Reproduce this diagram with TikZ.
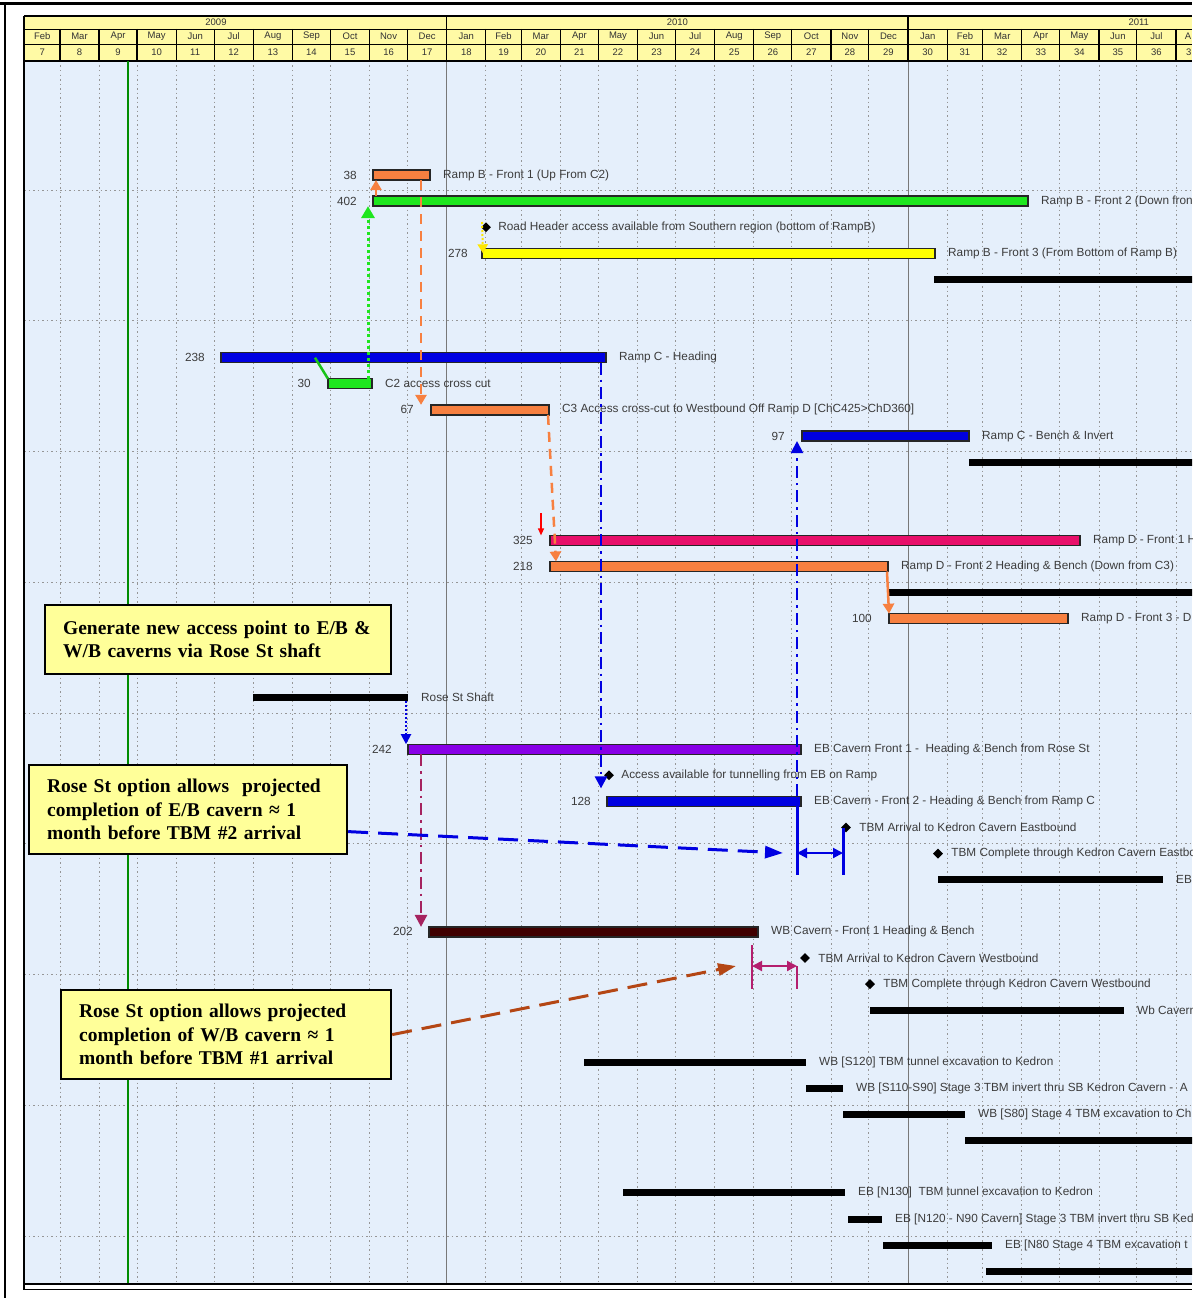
\documentclass[tikz,border=0pt]{standalone}
\usepackage{fontspec}
\setmainfont{Liberation Serif}
\setsansfont{Liberation Sans}
\usetikzlibrary{positioning,shapes.geometric,arrows.meta}
\definecolor{bodyblue}{RGB}{229,239,251}
\definecolor{hdryellow}{RGB}{255,250,165}
\definecolor{noteyellow}{RGB}{255,255,153}
\definecolor{barorange}{RGB}{247,128,64}
\definecolor{bargreen}{RGB}{30,230,30}
\definecolor{baryellow}{RGB}{255,255,0}
\definecolor{barblue}{RGB}{0,0,225}
\definecolor{barpink}{RGB}{232,16,106}
\definecolor{barpurple}{RGB}{136,0,230}
\definecolor{barmaroon}{RGB}{64,0,0}
\definecolor{gridgray}{RGB}{150,150,150}
\definecolor{todaygreen}{RGB}{0,140,0}
\definecolor{linkmaroon}{RGB}{165,35,95}
\definecolor{linkpink}{RGB}{180,30,110}
\definecolor{linkbrown}{RGB}{180,70,20}
\definecolor{txtgray}{RGB}{60,60,60}

\begin{document}
\begin{tikzpicture}[x=1pt, y=-1pt, node distance=13pt,
  bar/.style={draw=black!85, line width=1.3pt, minimum height=10pt, inner sep=0pt, outer sep=0pt, anchor=west},
  sum/.style={fill=black, minimum height=7pt, inner sep=0pt, outer sep=0pt, anchor=west},
  lbl/.style={font=\sffamily\fontsize{11.8}{13}\selectfont, text=txtgray, inner sep=0pt},
  hdr/.style={font=\sffamily\fontsize{9.5}{10}\selectfont, text=black!80, inner sep=0pt},
  mile/.style={diamond, fill=black, inner sep=0pt, minimum size=10pt},
  note/.style={draw=black, line width=2.2pt, fill=noteyellow, font=\bfseries\fontsize{19.5}{23.5}\selectfont, align=left, inner xsep=18pt, anchor=north west},
  griddot/.style={draw=gridgray, line width=0.8pt, dash pattern=on 1.5pt off 3pt},
  gdot/.style={draw=bargreen, line width=3pt, dash pattern=on 3pt off 3pt, -{Triangle[width=13pt,length=12pt]}},
  gline/.style={draw=bargreen!85!black, line width=2.5pt},
  oarr/.style={draw=barorange, line width=2.5pt, -{Triangle[width=11pt,length=10pt]}},
  odash/.style={oarr, dash pattern=on 10pt off 7pt},
  ydot/.style={draw=yellow!90!orange, line width=2pt, dash pattern=on 2pt off 2pt, -{Triangle[width=10pt,length=9pt]}},
  redarr/.style={draw=red, line width=1.2pt, -{Triangle[width=6pt,length=7pt]}},
  bdd/.style={draw=barblue, line width=2.5pt, dash pattern=on 12pt off 5pt on 2.5pt off 5pt, -{Triangle[width=12pt,length=12pt]}},
  mdd/.style={bdd, draw=linkmaroon},
  bdot/.style={draw=barblue, line width=2pt, dash pattern=on 2pt off 2pt, -{Triangle[width=10pt,length=10pt]}},
  bdash/.style={draw=barblue, line width=3pt, dash pattern=on 20pt off 10pt, -{Triangle[width=12pt,length=18pt]}},
  brdash/.style={bdash, draw=linkbrown},
  bline/.style={draw=barblue, line width=3pt},
  pline/.style={draw=linkpink, line width=2.5pt},
  bdbl/.style={draw=barblue, line width=2pt, {Triangle[width=10pt,length=10pt]}-{Triangle[width=10pt,length=10pt]}},
  pdbl/.style={bdbl, draw=linkpink}]

  \useasboundingbox (0,0) rectangle (1192,1298);
  \clip (0,0) rectangle (1192,1298);
  \fill[white] (0,0) rectangle (1192,1298);

  % chart area and header
  \fill[bodyblue] (24,61) rectangle (1192,1285);
  \fill[hdryellow] (24,16) rectangle (1192,61);
  \draw[line width=0.8pt] (24,29) -- (1192,29) (24,44) -- (1192,44);
  \foreach \ms/\me/\mn/\wk in {-334/-306/Feb/7, -306/-275/Mar/8, -275/-245/Apr/9, -245/-214/May/10,
      -214/-184/Jun/11, -184/-153/Jul/12, -153/-122/Aug/13, -122/-92/Sep/14, -92/-61/Oct/15,
      -61/-31/Nov/16, -31/0/Dec/17, 0/31/Jan/18, 31/59/Feb/19, 59/90/Mar/20, 90/120/Apr/21,
      120/151/May/22, 151/181/Jun/23, 181/212/Jul/24, 212/243/Aug/25, 243/273/Sep/26,
      273/304/Oct/27, 304/334/Nov/28, 334/365/Dec/29, 365/396/Jan/30, 396/424/Feb/31,
      424/455/Mar/32, 455/485/Apr/33, 485/516/May/34, 516/546/Jun/35, 546/577/Jul/36}{
    \draw[griddot] ({446.7+1.264*\me},61) -- ({446.7+1.264*\me},1285);
    \draw[line width=1.2pt] ({446.7+1.264*\me},29) -- ({446.7+1.264*\me},61);
    \node[hdr] (mn\wk) at ({446.7+0.632*(\ms+\me)},36.5) {\mn};
    \node[hdr] (wk\wk) at ({446.7+0.632*(\ms+\me)},52.5) {\wk};
  }
  \node[hdr, anchor=east] (mn37) at (1191.5,36.5) {A};
  \node[hdr, anchor=east] (wk37) at (1191.5,52.5) {3};
  \foreach \k in {0,...,8}
    \draw[griddot] (24,{190+130.75*\k}) -- (1192,{190+130.75*\k});
  \draw[gridgray!80!black, line width=0.8pt] (446.7,61) -- (446.7,1285) (908.1,61) -- (908.1,1285);
  \draw[line width=1.5pt] (446.7,16) -- (446.7,61) (908.1,16) -- (908.1,61);
  \draw[line width=1.5pt] (24,16) -- (1192,16) (24,61) -- (1192,61);
  \node[hdr] (y2009) at (216,22.5) {2009};
  \node[hdr] (y2010) at (677.4,22.5) {2010};
  \node[hdr] (y2011) at (1138.8,22.5) {2011};
  \draw[todaygreen, line width=2.5pt] (128,61) -- (128,1284);
  \draw[line width=2.5pt] (24,1284) -- (1192,1284);
  \draw[line width=1pt] (24,1289) -- (1192,1289);
  \draw[line width=2.5pt] (24,16) -- (24,1290);
  \draw[line width=3pt] (0,4) -- (1192,4);
  \draw[line width=1.2pt] (5,4) -- (5,1298);

  % Ramp B
  \node[bar, fill=barorange, minimum width=57pt] (rbB1) at (373,175) {};
  \node[lbl, left=16pt of rbB1] (rbB1d) {38};
  \node[lbl, right=of rbB1] (rbB1t) {Ramp B - Front 1 (Up From C2)};
  \node[bar, fill=bargreen, minimum width=655pt] (rbB2) at (373,201.1) {};
  \node[lbl, left=16pt of rbB2] (rbB2d) {402};
  \node[lbl, right=of rbB2] (rbB2t) {Ramp B - Front 2 (Down fron};
  \node[mile] (rh) at (486,227.2) {};
  \node[lbl, right=7pt of rh] (rht) {Road Header access available from Southern region (bottom of RampB)};
  \node[bar, fill=baryellow, minimum width=453pt] (rbB3) at (482,253.3) {};
  \node[lbl, left=14pt of rbB3] (rbB3d) {278};
  \node[lbl, right=of rbB3] (rbB3t) {Ramp B - Front 3 (From Bottom of Ramp B)};
  \node[sum, minimum width=266pt] (s4) at (934,279.4) {};

  % Ramp C and cross cuts
  \node[bar, fill=barblue, minimum width=385pt] (rcH) at (221,357.7) {};
  \node[lbl, left=16pt of rcH] (rcHd) {238};
  \node[lbl, right=of rcH] (rcHt) {Ramp C - Heading};
  \node[bar, fill=bargreen, minimum width=44pt] (c2) at (328,383.8) {};
  \node[lbl, left=17pt of c2] (c2d) {30};
  \node[lbl, right=of c2] (c2t) {C2 access cross cut};
  \node[bar, fill=barorange, minimum width=118pt] (c3) at (431,409.9) {};
  \node[lbl, left=17pt of c3] (c3d) {67};
  \node[lbl, right=of c3] (c3t) {C3 Access cross-cut to Westbound Off Ramp D [ChC425>ChD360]};
  \node[bar, fill=barblue, minimum width=167pt] (rcB) at (802,436) {};
  \node[lbl, left=17pt of rcB] (rcBd) {97};
  \node[lbl, right=of rcB] (rcBt) {Ramp C - Bench \& Invert};
  \node[sum, minimum width=231pt] (s11) at (969,462.1) {};

  % Ramp D
  \node[bar, fill=barpink, minimum width=530pt] (rdF1) at (550,540.4) {};
  \node[lbl, left=17pt of rdF1] (rdF1d) {325};
  \node[lbl, right=of rdF1] (rdF1t) {Ramp D - Front 1 H};
  \node[bar, fill=barorange, minimum width=338pt] (rdF2) at (550,566.5) {};
  \node[lbl, left=17pt of rdF2] (rdF2d) {218};
  \node[lbl, right=of rdF2] (rdF2t) {Ramp D - Front 2 Heading \& Bench (Down from C3)};
  \node[sum, minimum width=312pt] (s16) at (888,592.6) {};
  \node[bar, fill=barorange, minimum width=179pt] (rdF3) at (889,618.7) {};
  \node[lbl, left=17pt of rdF3] (rdF3d) {100};
  \node[lbl, right=of rdF3] (rdF3t) {Ramp D - Front 3 - D};

  % Rose St and EB cavern
  \node[sum, minimum width=155pt] (rose) at (253,697) {};
  \node[lbl, right=of rose] (roset) {Rose St Shaft};
  \node[bar, fill=barpurple, minimum width=393pt] (eb1) at (408,749.2) {};
  \node[lbl, left=16pt of eb1] (eb1d) {242};
  \node[lbl, right=of eb1] (eb1t) {EB Cavern Front 1 -\ \ Heading \& Bench from Rose St};
  \node[mile] (acc) at (609,775.3) {};
  \node[lbl, right=7pt of acc] (acct) {Access available for tunnelling from EB on Ramp};
  \node[bar, fill=barblue, minimum width=194pt] (eb2) at (607,801.4) {};
  \node[lbl, left=16pt of eb2] (eb2d) {128};
  \node[lbl, right=of eb2] (eb2t) {EB Cavern - Front 2 - Heading \& Bench from Ramp C};
  \node[mile] (tbmE) at (846,827.5) {};
  \node[lbl, right=8pt of tbmE] (tbmEt) {TBM Arrival to Kedron Cavern Eastbound};
  \node[mile] (tbmEc) at (938,853.6) {};
  \node[lbl, right=8pt of tbmEc] (tbmEct) {TBM Complete through Kedron Cavern Eastbo};
  \node[sum, minimum width=225pt] (s27) at (938,879.7) {};
  \node[lbl, right=of s27] (s27t) {EB};

  % WB cavern
  \node[bar, fill=barmaroon, minimum width=329pt] (wb1) at (429,931.9) {};
  \node[lbl, left=16pt of wb1] (wb1d) {202};
  \node[lbl, right=of wb1] (wb1t) {WB Cavern - Front 1 Heading \& Bench};
  \node[mile] (tbmW) at (805,958) {};
  \node[lbl, right=8pt of tbmW] (tbmWt) {TBM Arrival to Kedron Cavern Westbound};
  \node[mile] (tbmWc) at (870,984.1) {};
  \node[lbl, right=8pt of tbmWc] (tbmWct) {TBM Complete through Kedron Cavern Westbound};
  \node[sum, minimum width=254pt] (s32) at (870,1010.2) {};
  \node[lbl, right=of s32] (s32t) {Wb Cavern};

  % TBM drives
  \node[sum, minimum width=222pt] (s34) at (584,1062.4) {};
  \node[lbl, right=of s34] (s34t) {WB [S120] TBM tunnel excavation to Kedron};
  \node[sum, minimum width=37pt] (s35) at (806,1088.5) {};
  \node[lbl, right=of s35] (s35t) {WB [S110-S90] Stage 3 TBM invert thru SB Kedron Cavern -\ \ A};
  \node[sum, minimum width=122pt] (s36) at (843,1114.6) {};
  \node[lbl, right=of s36] (s36t) {WB [S80] Stage 4 TBM excavation to Ch};
  \node[sum, minimum width=235pt] (s37) at (965,1140.7) {};
  \node[sum, minimum width=222pt] (s39) at (623,1192.9) {};
  \node[lbl, right=of s39] (s39t) {EB [N130]\ \ TBM tunnel excavation to Kedron};
  \node[sum, minimum width=34pt] (s40) at (848,1219) {};
  \node[lbl, right=of s40] (s40t) {EB [N120 - N90 Cavern] Stage 3 TBM invert thru SB Ked};
  \node[sum, minimum width=109pt] (s41) at (883,1245.1) {};
  \node[lbl, right=of s41] (s41t) {EB [N80 Stage 4 TBM excavation t};
  \node[sum, minimum width=214pt] (s42) at (986,1271.2) {};

  % callouts
  \node[note, text width=310pt, minimum height=69pt] (nb1) at (44,604)
    {Generate new access point to E/B \&\\W/B caverns via Rose St shaft};
  \node[note, text width=282pt, minimum height=89pt] (nb2) at (28,764)
    {Rose St option allows~~projected\\completion of E/B cavern \char"2248{} 1\\month before TBM \#2 arrival};
  \node[note, text width=294pt, minimum height=89pt] (nb3) at (60,989)
    {Rose St option allows projected\\completion of W/B cavern \char"2248{} 1\\month before TBM \#1 arrival};

  % bracket ends
  \coordinate (g1) at (315,357.7);
  \coordinate (r1) at (541,513);
  \coordinate (eA) at (797,853);
  \coordinate (eB) at (843,853);
  \coordinate (eEnd) at (797,875);
  \coordinate (eEnd2) at (843,875);
  \coordinate (wTop) at (752,945);
  \coordinate (wA) at (752,966);
  \coordinate (wB) at (797,966);
  \coordinate (wEnd) at (752,989);
  \coordinate (wEnd2) at (797,989);

  % links
  \draw[gline] (g1) to (c2.north west);
  \draw[gdot] ([xshift=-4pt]c2.north east) to ([xshift=-5pt]rbB2.south west);
  \draw[oarr] ([xshift=3pt]rbB2.north west) to ([xshift=3pt]rbB1.south west);
  \draw[odash] ([xshift=-9pt]rbB1.south east) to ([xshift=-10pt]c3.north west);
  \draw[ydot] ([xshift=-4pt]rh.north) to ([xshift=1pt]rbB3.west);
  \draw[odash] ([xshift=-1pt]c3.south east) to ([xshift=6pt]rdF2.north west);
  \draw[redarr] (r1) to ([xshift=-9pt]rdF1.north west);
  \draw[bdd] ([xshift=-5pt]rcH.south east) to ([xshift=-6pt,yshift=8pt]eb2.north west);
  \draw[oarr] ([xshift=-1pt]rdF2.south east) to (rdF3.north west);
  \draw[bdot] ([xshift=-2pt]rose.south east) to ([xshift=-2pt]eb1.north west);
  \draw[mdd] ([xshift=13pt]eb1.south west) to ([xshift=-8pt]wb1.north west);
  \draw[bdd] ([xshift=-4pt]eb2.north east) to ([xshift=-5pt]rcB.south west);

  \draw[bline] ([xshift=-4pt]eb2.south east) to (eEnd);
  \draw[bline] ([xshift=-3pt]tbmE.center) to (eEnd2);
  \draw[bdbl] (eA) to (eB);
  \draw[bdash] ([yshift=-22pt]nb2.east) to ([xshift=-14pt]eA);

  \draw[pline] (wTop) to (wEnd);
  \draw[pline] (wB) to (wEnd2);
  \draw[pdbl] (wA) to (wB);
  \draw[brdash] (nb3.east) to ([xshift=-16pt]wA);
\end{tikzpicture}
\end{document}
